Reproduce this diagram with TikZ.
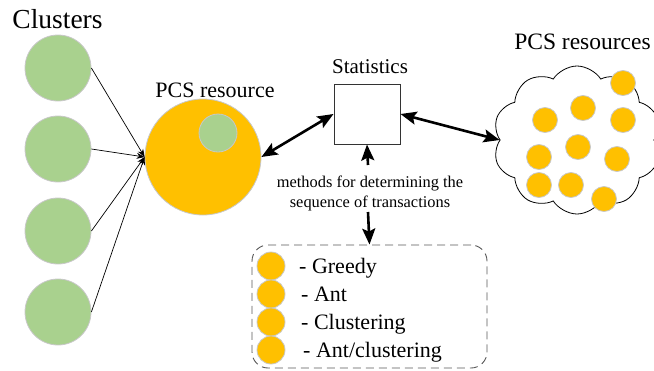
\documentclass[tikz,border=0pt]{standalone}
\usepackage{fontspec}
\setmainfont{Liberation Serif}
\usetikzlibrary{arrows.meta,shapes.symbols}
\definecolor{leaf}{HTML}{A9D18E}
\definecolor{amber}{HTML}{FFC000}
\definecolor{rim}{HTML}{C8C8C8}
\definecolor{dashgray}{HTML}{595959}
\tikzset{
  greenball/.style={circle, fill=leaf, draw=rim, line width=0.8pt, minimum size=#1, inner sep=0pt},
  orangeball/.style={circle, fill=amber, draw=rim, line width=0.8pt, minimum size=#1, inner sep=0pt},
  thinarrow/.style={-{Stealth[length=8pt,width=6pt]}, line width=0.7pt},
  bigarrow/.style={{Stealth[length=16pt,width=13pt,inset=3pt]}-{Stealth[length=16pt,width=13pt,inset=3pt]}, line width=2.6pt},
  uparrow/.style={-{Stealth[length=16pt,width=13pt,inset=3pt]}, line width=2.6pt},
  titletext/.style={font=\fontsize{#1}{#1}\selectfont, inner sep=0pt},
  legtext/.style={font=\fontsize{22}{26}\selectfont, inner sep=0pt, anchor=base west},
}
\begin{document}
\begin{tikzpicture}[x=1pt,y=-1pt]
\useasboundingbox (0,0) rectangle (654,370);

% cluster column
\node[titletext=27.5] (clustitle) at (57.5,19) {Clusters};
\node[greenball=66pt] (g1) at (58,68) {};
\node[greenball=66pt] (g2) at (58,149) {};
\node[greenball=66pt] (g3) at (58,231) {};
\node[greenball=66pt] (g4) at (58,312) {};

% central resource
\node[titletext=22] (restitle) at (215,90) {PCS resource};
\node[orangeball=116pt] (big) at (203,157) {};
\node[greenball=38pt] (inner) at (218,133) {};

\foreach \g in {g1,g2,g3,g4}
  \draw[thinarrow] (\g.east) -- (big.west);

% statistics block
\node[titletext=21] (stattitle) at (370,67) {Statistics};
\node[draw=black!80, line width=1pt, minimum width=66pt, minimum height=60pt, inner sep=0pt] (stats) at (367,114) {};

% resource pool
\node[titletext=23.5] (pooltitle) at (582.5,42) {PCS resources};
\node[cloud, draw, line width=0.8pt, cloud puffs=10, cloud puff arc=115, aspect=1.1,
      minimum width=168pt, minimum height=148pt, inner sep=0pt] (pool) at (577,140) {};
\node[orangeball=25pt] (p1) at (623,83) {};
\node[orangeball=25pt] (p2) at (583,108) {};
\node[orangeball=25pt] (p3) at (545,120) {};
\node[orangeball=25pt] (p4) at (623,120) {};
\node[orangeball=25pt] (p5) at (578,147) {};
\node[orangeball=25pt] (p6) at (539,157) {};
\node[orangeball=25pt] (p7) at (617,159) {};
\node[orangeball=25pt] (p8) at (539,185) {};
\node[orangeball=25pt] (p9) at (571,185) {};
\node[orangeball=25pt] (p10) at (604,199) {};

\draw[bigarrow] (big.east) -- (stats.west);
\draw[bigarrow] (stats.east) -- (pool.west);

% methods caption and legend
\node[font=\fontsize{16.4}{20}\selectfont, align=center, inner sep=0pt] (methods) at (370,193)
  {methods for determining the\\sequence of transactions};
\coordinate (methtop) at (368,165);
\coordinate (methbot) at (368,212);
\draw[uparrow] (methtop) -- (stats.south);

\node[draw=dashgray, line width=0.9pt, dash pattern=on 8pt off 5pt, rounded corners=16pt,
      minimum width=235pt, minimum height=123pt, inner sep=0pt] (legend) at (369.5,306.5) {};
\draw[uparrow] (methbot) -- (legend.north);

\node[orangeball=28pt] (l1) at (271,266) {};
\node[orangeball=28pt] (l2) at (271,294) {};
\node[orangeball=28pt] (l3) at (271,322) {};
\node[orangeball=28pt] (l4) at (271,350) {};
\node[legtext] (t1) at (299,273) {- Greedy};
\node[legtext] (t2) at (301,301) {- Ant};
\node[legtext] (t3) at (301,329) {- Clustering};
\node[legtext] (t4) at (303,357) {- Ant/clustering};
\end{tikzpicture}
\end{document}
